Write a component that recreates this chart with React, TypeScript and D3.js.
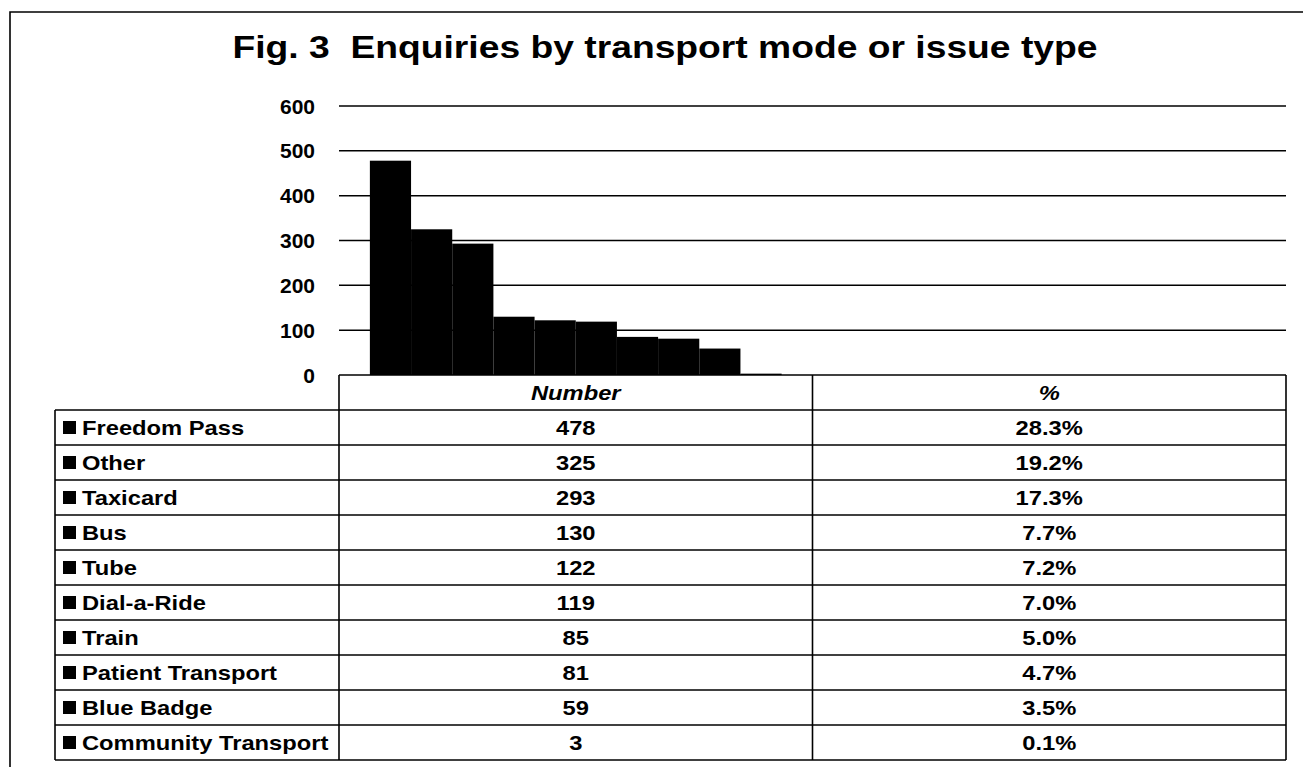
import React, { useRef, useEffect } from "react";
import * as d3 from "d3";

const title = "Fig. 3  Enquiries by transport mode or issue type";
const columns = ["Number", "%"];
const categories = [
  "Freedom Pass",
  "Other",
  "Taxicard",
  "Bus",
  "Tube",
  "Dial-a-Ride",
  "Train",
  "Patient Transport",
  "Blue Badge",
  "Community Transport",
];
const numbers = [478, 325, 293, 130, 122, 119, 85, 81, 59, 3];
const percents = [28.3, 19.2, 17.3, 7.7, 7.2, 7.0, 5.0, 4.7, 3.5, 0.1];
const yTicks = [0, 100, 200, 300, 400, 500, 600];

const FONT = "'Liberation Sans', Arial, Helvetica, sans-serif";
// the scanned page is a little wider than tall, so text is stretched sideways
const STRETCH = 1.13;

const App = () => {
  const ref = useRef<SVGSVGElement>(null);

  useEffect(() => {
    const svg = d3.select(ref.current);
    svg.selectAll("*").remove();

    const width = 1303;
    const height = 767;
    const plot = { left: 339, right: 1286, top: 106, bottom: 375 };
    const tableLeft = 55;
    const rowHeight = 35;

    svg.append("rect").attr("width", width).attr("height", height).attr("fill", "#fff");

    // outer frame (runs off the page right and bottom)
    svg
      .append("path")
      .attr("d", `M10,${height + 5}V12H${width + 5}`)
      .attr("fill", "none")
      .attr("stroke", "#000")
      .attr("stroke-width", 1.6);

    // title
    svg
      .append("text")
      .attr("x", 665)
      .attr("y", 58)
      .attr("text-anchor", "middle")
      .attr("font-family", FONT)
      .attr("font-weight", "bold")
      .attr("font-size", 31)
      .attr("textLength", 865)
      .attr("lengthAdjust", "spacingAndGlyphs")
      .style("white-space", "pre")
      .text(title);

    // scales
    const yScale = d3.scaleLinear().domain([0, 600]).range([plot.bottom, plot.top]);
    const x0 = d3.scaleBand().domain(columns).range([plot.left, plot.right]);
    const x1 = d3
      .scaleBand()
      .domain(categories)
      .range([0, x0.bandwidth()])
      .paddingInner(0)
      .paddingOuter(0.75);
    const rowScale = d3
      .scaleBand()
      .domain(categories)
      .range([plot.bottom + rowHeight, plot.bottom + rowHeight * (categories.length + 1)]);

    // gridlines
    svg
      .append("g")
      .selectAll("line")
      .data(yTicks.filter((t) => t > 0))
      .join("line")
      .attr("x1", plot.left)
      .attr("x2", plot.right)
      .attr("y1", (d) => yScale(d))
      .attr("y2", (d) => yScale(d))
      .attr("stroke", "#000")
      .attr("stroke-width", 1.5);

    // y labels
    svg
      .append("g")
      .selectAll("text")
      .data(yTicks)
      .join("text")
      .attr("x", 315)
      .attr("y", (d) => yScale(d))
      .attr("dy", "0.36em")
      .attr("text-anchor", "end")
      .attr("font-family", FONT)
      .attr("font-weight", "bold")
      .attr("font-size", 21)
      .text((d) => d);

    // bars (only the "Number" column; % values are too small to show)
    svg
      .append("g")
      .selectAll("rect")
      .data(categories.map((c, i) => ({ c, v: numbers[i] })))
      .join("rect")
      .attr("x", (d) => (x0("Number") as number) + (x1(d.c) as number))
      .attr("y", (d) => yScale(d.v))
      .attr("width", x1.bandwidth())
      .attr("height", (d) => yScale(0) - yScale(d.v))
      .attr("fill", "#000");

    // data table
    const table = svg.append("g").attr("font-family", FONT).attr("font-weight", "bold");
    const tableBottom = plot.bottom + rowHeight * (categories.length + 1);

    table
      .append("line")
      .attr("x1", plot.left)
      .attr("x2", plot.right)
      .attr("y1", plot.bottom)
      .attr("y2", plot.bottom)
      .attr("stroke", "#000")
      .attr("stroke-width", 1.6);

    table
      .selectAll("text.head")
      .data(columns)
      .join("text")
      .attr("class", "head")
      .attr(
        "transform",
        (d) =>
          `translate(${(x0(d) as number) + x0.bandwidth() / 2},${plot.bottom + rowHeight / 2}) scale(${STRETCH},1)`
      )
      .attr("dy", "0.36em")
      .attr("text-anchor", "middle")
      .attr("font-size", 21)
      .attr("font-style", "italic")
      .text((d) => d);

    // horizontal rules
    table
      .selectAll("line.row")
      .data([...categories.map((c) => rowScale(c) as number), tableBottom])
      .join("line")
      .attr("class", "row")
      .attr("x1", tableLeft)
      .attr("x2", plot.right)
      .attr("y1", (d) => d)
      .attr("y2", (d) => d)
      .attr("stroke", "#000")
      .attr("stroke-width", 1.4);

    // vertical rules
    const vlines = [
      { x: tableLeft, y1: plot.bottom + rowHeight },
      { x: plot.left, y1: plot.bottom },
      { x: x0("%") as number, y1: plot.bottom },
      { x: plot.right, y1: plot.bottom },
    ];
    table
      .selectAll("line.col")
      .data(vlines)
      .join("line")
      .attr("class", "col")
      .attr("x1", (d) => d.x)
      .attr("x2", (d) => d.x)
      .attr("y1", (d) => d.y1)
      .attr("y2", tableBottom)
      .attr("stroke", "#000")
      .attr("stroke-width", 1.6);

    const rows = table
      .selectAll("g.r")
      .data(categories.map((c, i) => ({ c, n: numbers[i], p: percents[i] })))
      .join("g")
      .attr("class", "r")
      .attr("transform", (d) => `translate(0,${(rowScale(d.c) as number) + rowHeight / 2})`);

    // legend keys
    rows
      .append("rect")
      .attr("x", 63)
      .attr("y", -6.5)
      .attr("width", 13)
      .attr("height", 13)
      .attr("fill", "#000");

    rows
      .append("text")
      .attr("transform", `translate(82,0) scale(${STRETCH},1)`)
      .attr("dy", "0.36em")
      .attr("font-size", 21)
      .text((d) => d.c);

    rows
      .append("text")
      .attr("transform", `translate(${(x0("Number") as number) + x0.bandwidth() / 2},0) scale(${STRETCH},1)`)
      .attr("dy", "0.36em")
      .attr("text-anchor", "middle")
      .attr("font-size", 21)
      .text((d) => d.n);

    rows
      .append("text")
      .attr("transform", `translate(${(x0("%") as number) + x0.bandwidth() / 2},0) scale(${STRETCH},1)`)
      .attr("dy", "0.36em")
      .attr("text-anchor", "middle")
      .attr("font-size", 21)
      .text((d) => d.p.toFixed(1) + "%");
  }, []);

  return (
    <svg
      ref={ref}
      width={1303}
      height={767}
      style={{ position: "absolute", left: 0, top: 0 }}
    ></svg>
  );
};

export default App;
